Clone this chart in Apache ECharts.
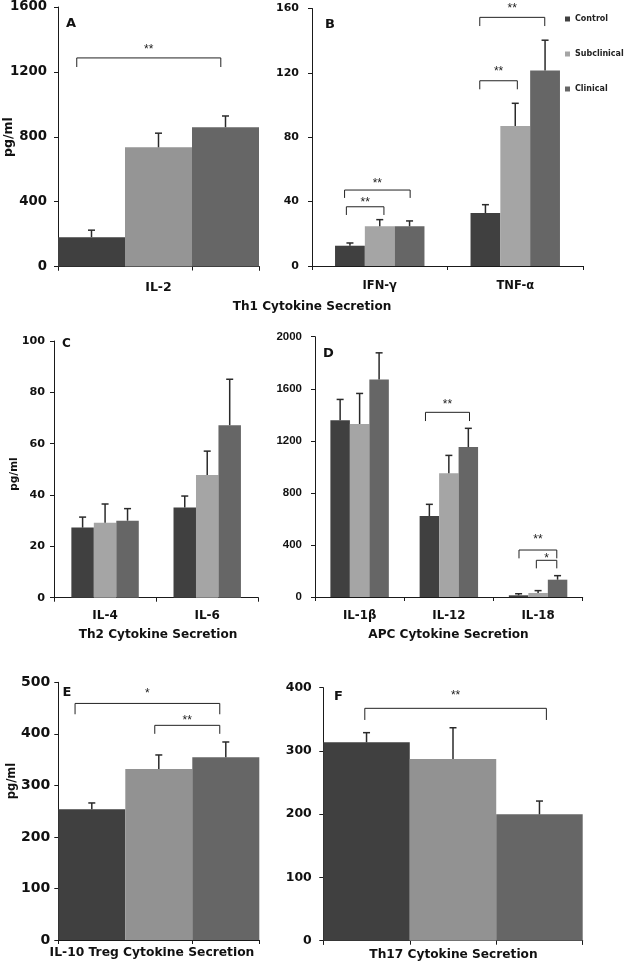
<!DOCTYPE html>
<html>
<head>
<meta charset="utf-8">
<script src="https://cdn.jsdelivr.net/npm/echarts@6/dist/echarts.min.js"></script>
<style>
html,body{margin:0;padding:0;background:#fff;}
#chart{width:625px;height:965px;}
</style>
</head>
<body>
<div id="chart"></div>
<script>
// ---------- DATA ----------
const groupNames = ['Control', 'Subclinical', 'Clinical'];

// A: Th1 (IL-2)
const aCategories = ['IL-2'];
const aControl = [181], aSubclinical = [735], aClinical = [859];
const aControlErr = [43], aSubclinicalErr = [87], aClinicalErr = [69];
const aTicks = [0, 400, 800, 1200, 1600];

// B: Th1 (IFN-γ, TNF-α)
const bCategories = ['IFN-γ', 'TNF-α'];
const bControl = [12.6, 32.9], bSubclinical = [24.7, 87.0], bClinical = [24.7, 121.4];
const bControlErr = [1.7, 5.2], bSubclinicalErr = [4.1, 14.1], bClinicalErr = [3.3, 18.9];
const bTicks = [0, 40, 80, 120, 160];

// C: Th2 (IL-4, IL-6)
const cCategories = ['IL-4', 'IL-6'];
const cControl = [27.3, 35.1], cSubclinical = [29.2, 47.8], cClinical = [30.0, 67.2];
const cControlErr = [4.1, 4.5], cSubclinicalErr = [7.3, 9.3], cClinicalErr = [4.7, 17.9];
const cTicks = [0, 20, 40, 60, 80, 100];

// D: APC (IL-1β, IL-12, IL-18)
const dCategories = ['IL-1β', 'IL-12', 'IL-18'];
const dControl = [1359, 622, 13], dSubclinical = [1329, 950, 31], dClinical = [1672, 1152, 133];
const dControlErr = [159, 90, 12], dSubclinicalErr = [235, 138, 18], dClinicalErr = [204, 144, 31];
const dTicks = [0, 400, 800, 1200, 1600, 2000];

// E: Treg (IL-10)
const eCategories = ['IL-10'];
const eControl = [253.6], eSubclinical = [331.8], eClinical = [354.5];
const eControlErr = [12.3], eSubclinicalErr = [27.2], eClinicalErr = [29.7];
const eTicks = [0, 100, 200, 300, 400, 500];

// F: Th17
const fCategories = ['IL-17'];
const fControl = [313.7], fSubclinical = [287.2], fClinical = [199.8];
const fControlErr = [15.2], fSubclinicalErr = [49.5], fClinicalErr = [21.0];
const fTicks = [0, 100, 200, 300, 400];

// Significance brackets: [groupFrom, barFrom, fracFrom, groupTo, barTo, fracTo, yLine, yLegEnd, yText, stars]
const aBrackets = [[0, 0, 0.28, 0, 2, 0.43, 1286, 1230, 1353, 2]];
const bBrackets = [
  [0, 0, 0.38, 0, 1, 0.64, 36.8, 31.7, 41.0, 2],
  [0, 0, 0.32, 0, 2, 0.52, 47.2, 42.3, 52.8, 2],
  [1, 0, 0.31, 1, 1, 0.57, 115.1, 109.8, 122.6, 2],
  [1, 0, 0.31, 1, 2, 0.49, 154.5, 149.1, 161.6, 2]
];
const cBrackets = [];
const dBrackets = [
  [1, 0, 0.30, 1, 2, 0.56, 1419, 1352, 1500, 2],
  [2, 0, 0.52, 2, 2, 0.46, 361, 297, 463, 2],
  [2, 1, 0.41, 2, 2, 0.46, 282, 220, 315, 1]
];
const eBrackets = [
  [0, 0, 0.25, 0, 2, 0.41, 459, 438, 483, 1],
  [0, 1, 0.44, 0, 2, 0.41, 416.5, 400, 431, 2]
];
const fBrackets = [[0, 0, 0.48, 0, 2, 0.58, 367.4, 349, 391, 2]];

// ---------- LAYOUT / STYLE ----------
const FONT = "'DejaVu Sans', Verdana, sans-serif";
const FONT_NARROW = "'Liberation Sans', Arial, sans-serif";
const AXIS_COLOR = '#1a1a1a';
const TEXT_COLOR = '#111';

const panels = [
  {cats: aCategories, vals: [aControl, aSubclinical, aClinical], errs: [aControlErr, aSubclinicalErr, aClinicalErr],
   ticks: aTicks, brackets: aBrackets, colors: ['#404040', '#959595', '#666666'],
   grid: {left: 58, top: 7, width: 201, height: 259.5}, gap: 0,
   tickFont: 13.3, tickFamily: FONT, catFont: 12.5, yMargin: 11, xMargin: 14.5, showCat: true},
  {cats: bCategories, vals: [bControl, bSubclinical, bClinical], errs: [bControlErr, bSubclinicalErr, bClinicalErr],
   ticks: bTicks, brackets: bBrackets, colors: ['#404040', '#a5a5a5', '#666666'],
   grid: {left: 312, top: 8.5, width: 271, height: 257.5}, gap: 0.34,
   tickFont: 11, tickFamily: FONT, catFont: 11.5, yMargin: 13, xMargin: 14.5, showCat: true},
  {cats: cCategories, vals: [cControl, cSubclinical, cClinical], errs: [cControlErr, cSubclinicalErr, cClinicalErr],
   ticks: cTicks, brackets: cBrackets, colors: ['#404040', '#a5a5a5', '#666666'],
   grid: {left: 54, top: 341, width: 204.3, height: 256.7}, gap: 0.34,
   tickFont: 11.2, tickFamily: FONT, catFont: 12, yMargin: 9, xMargin: 12.5, showCat: true},
  {cats: dCategories, vals: [dControl, dSubclinical, dClinical], errs: [dControlErr, dSubclinicalErr, dClinicalErr],
   ticks: dTicks, brackets: dBrackets, colors: ['#404040', '#a5a5a5', '#666666'],
   grid: {left: 315, top: 336.7, width: 267.7, height: 260.3}, gap: 0.345,
   tickFont: 11.5, tickFamily: FONT_NARROW, catFont: 11.8, yMargin: 13, xMargin: 13, showCat: true},
  {cats: eCategories, vals: [eControl, eSubclinical, eClinical], errs: [eControlErr, eSubclinicalErr, eClinicalErr],
   ticks: eTicks, brackets: eBrackets, colors: ['#404040', '#929292', '#666666'],
   grid: {left: 58.3, top: 682.3, width: 201, height: 257.7}, gap: 0,
   tickFont: 14, tickFamily: FONT, catFont: 12.5, yMargin: 8, xMargin: 14, showCat: false},
  {cats: fCategories, vals: [fControl, fSubclinical, fClinical], errs: [fControlErr, fSubclinicalErr, fClinicalErr],
   ticks: fTicks, brackets: fBrackets, colors: ['#404040', '#929292', '#666666'],
   grid: {left: 323.3, top: 687.7, width: 259.4, height: 253}, gap: 0,
   tickFont: 12.5, tickFamily: FONT, catFont: 12.5, yMargin: 11.5, xMargin: 14, showCat: false}
];

const texts = [
  {t: 'A', x: 66, y: 24, s: 13, a: 'left'},
  {t: 'B', x: 325, y: 25, s: 13, a: 'left'},
  {t: 'C', x: 62, y: 344, s: 12, a: 'left'},
  {t: 'D', x: 323, y: 354, s: 13, a: 'left'},
  {t: 'E', x: 62.5, y: 693, s: 13, a: 'left'},
  {t: 'F', x: 334, y: 697, s: 13, a: 'left'},
  {t: 'Th1 Cytokine Secretion', x: 312, y: 307, s: 12.1, a: 'center'},
  {t: 'Th2 Cytokine Secretion', x: 158, y: 635, s: 12.1, a: 'center'},
  {t: 'APC Cytokine Secretion', x: 448.5, y: 635, s: 12.1, a: 'center'},
  {t: 'IL-10 Treg Cytokine Secretion', x: 152, y: 953, s: 12.3, a: 'center'},
  {t: 'Th17 Cytokine Secretion', x: 453.5, y: 955, s: 12.2, a: 'center'}
];
const yTitles = [
  {x: 9, y: 137, s: 12.5},
  {x: 14, y: 474, s: 10.5},
  {x: 12, y: 781, s: 11.5}
];

function errorRenderer(gap) {
  return function (params, api) {
    const g = api.value(0), s = api.value(1), v = api.value(2), e = api.value(3);
    const bw = api.size([1, 0])[0];
    const w = bw * (1 - gap) / 3;
    const p0 = api.coord([g, v]);
    const p1 = api.coord([g, v + e]);
    const x = p0[0] + (s - 1) * w;
    const st = {stroke: '#2a2a2a', lineWidth: 1.5};
    return {type: 'group', children: [
      {type: 'line', shape: {x1: x, y1: p0[1], x2: x, y2: p1[1]}, style: st},
      {type: 'line', shape: {x1: x - 3.5, y1: p1[1], x2: x + 3.5, y2: p1[1]}, style: st}
    ]};
  };
}

function bracketRenderer(gap) {
  return function (params, api) {
    const bw = api.size([1, 0])[0];
    const w = bw * (1 - gap) / 3;
    const xAt = (g, s, f) => api.coord([g, 0])[0] - 1.5 * w + (s + f) * w;
    const x1 = xAt(api.value(0), api.value(1), api.value(2));
    const x2 = xAt(api.value(3), api.value(4), api.value(5));
    const y = api.coord([0, api.value(6)])[1];
    const yl = api.coord([0, api.value(7)])[1];
    const ty = api.coord([0, api.value(8)])[1] + 2.5;
    const n = api.value(9);
    return {type: 'group', children: [
      {type: 'polyline', shape: {points: [[x1, yl], [x1, y], [x2, y], [x2, yl]]},
       style: {stroke: '#222', lineWidth: 1, fill: null}},
      {type: 'text', style: {x: (x1 + x2) / 2, y: ty, text: '*'.repeat(n), align: 'center', verticalAlign: 'middle',
       textAlign: 'center', textVerticalAlign: 'middle', fontSize: 12, fontFamily: FONT_NARROW, fill: '#222'}}
    ]};
  };
}

const grid = [], xAxis = [], yAxis = [], series = [];
panels.forEach((p, i) => {
  grid.push(Object.assign({containLabel: false}, p.grid));
  const single = p.cats.length === 1;
  const xi = xAxis.length;
  xAxis.push({
    type: 'category', gridIndex: i, data: p.cats, position: 'bottom',
    axisLine: {show: true, lineStyle: {color: AXIS_COLOR, width: 1}},
    axisTick: {show: true, length: 4, lineStyle: {color: AXIS_COLOR}},
    axisLabel: {show: p.showCat, fontSize: p.catFont, fontWeight: 'bold', color: TEXT_COLOR, margin: p.xMargin, fontFamily: FONT},
    splitLine: {show: false}
  });
  if (single) {
    // extra tick marks at bar boundaries
    xAxis.push({
      type: 'category', gridIndex: i, data: groupNames, position: 'bottom',
      axisLine: {show: false}, axisLabel: {show: false},
      axisTick: {show: true, length: 4, lineStyle: {color: AXIS_COLOR}}, splitLine: {show: false}
    });
  }
  yAxis.push({
    type: 'value', gridIndex: i, min: p.ticks[0], max: p.ticks[p.ticks.length - 1], interval: p.ticks[1] - p.ticks[0],
    axisLine: {show: true, lineStyle: {color: AXIS_COLOR, width: 1}},
    axisTick: {show: true, length: 4, lineStyle: {color: AXIS_COLOR}},
    splitLine: {show: false},
    axisLabel: {fontSize: p.tickFont, fontWeight: 'bold', color: TEXT_COLOR, margin: p.yMargin, fontFamily: p.tickFamily,
                formatter: v => String(v)}
  });
  for (let s = 0; s < 3; s++) {
    series.push({
      type: 'bar', name: groupNames[s], xAxisIndex: xi, yAxisIndex: i, data: p.vals[s],
      barGap: '0%', barCategoryGap: (p.gap * 100) + '%',
      itemStyle: {color: p.colors[s]}, silent: true, z: 2
    });
  }
  const errData = [];
  p.cats.forEach((c, g) => { for (let s = 0; s < 3; s++) errData.push([g, s, p.vals[s][g], p.errs[s][g]]); });
  series.push({
    type: 'custom', name: 'err' + i, xAxisIndex: xi, yAxisIndex: i, data: errData,
    encode: {x: 0, y: 2}, renderItem: errorRenderer(p.gap), silent: true, z: 3, clip: false
  });
  if (p.brackets.length) {
    series.push({
      type: 'custom', name: 'sig' + i, xAxisIndex: xi, yAxisIndex: i, data: p.brackets,
      encode: {x: 0, y: 6}, renderItem: bracketRenderer(p.gap), silent: true, z: 4, clip: false
    });
  }
});

const graphic = [];
texts.forEach(t => graphic.push({
  type: 'text', x: t.x, y: t.y, silent: true,
  style: {text: t.t, fontSize: t.s, fontWeight: 'bold', fontFamily: FONT, fill: TEXT_COLOR,
          textAlign: t.a, textVerticalAlign: 'middle', align: t.a, verticalAlign: 'middle'}
}));
yTitles.forEach(t => graphic.push({
  type: 'text', x: t.x, y: t.y, rotation: Math.PI / 2, silent: true,
  style: {text: 'pg/ml', fontSize: t.s, fontWeight: 'bold', fontFamily: FONT, fill: TEXT_COLOR,
          textAlign: 'center', textVerticalAlign: 'middle', align: 'center', verticalAlign: 'middle'}
}));

const option = {
  animation: false,
  backgroundColor: '#ffffff',
  textStyle: {fontFamily: FONT},
  legend: {
    orient: 'vertical', left: 565, top: 14, padding: 0,
    itemWidth: 5, itemHeight: 5, itemGap: 25, icon: 'rect',
    data: [
      {name: 'Control', itemStyle: {color: '#404040'}},
      {name: 'Subclinical', itemStyle: {color: '#a5a5a5'}},
      {name: 'Clinical', itemStyle: {color: '#666666'}}
    ],
    textStyle: {fontSize: 8, fontWeight: 'bold', color: '#222', fontFamily: FONT, lineHeight: 10},
    selectedMode: false
  },
  grid, xAxis, yAxis, series, graphic
};

const chart = echarts.init(document.getElementById('chart'), null, {renderer: 'canvas'});
chart.setOption(option);
</script>
</body>
</html>
